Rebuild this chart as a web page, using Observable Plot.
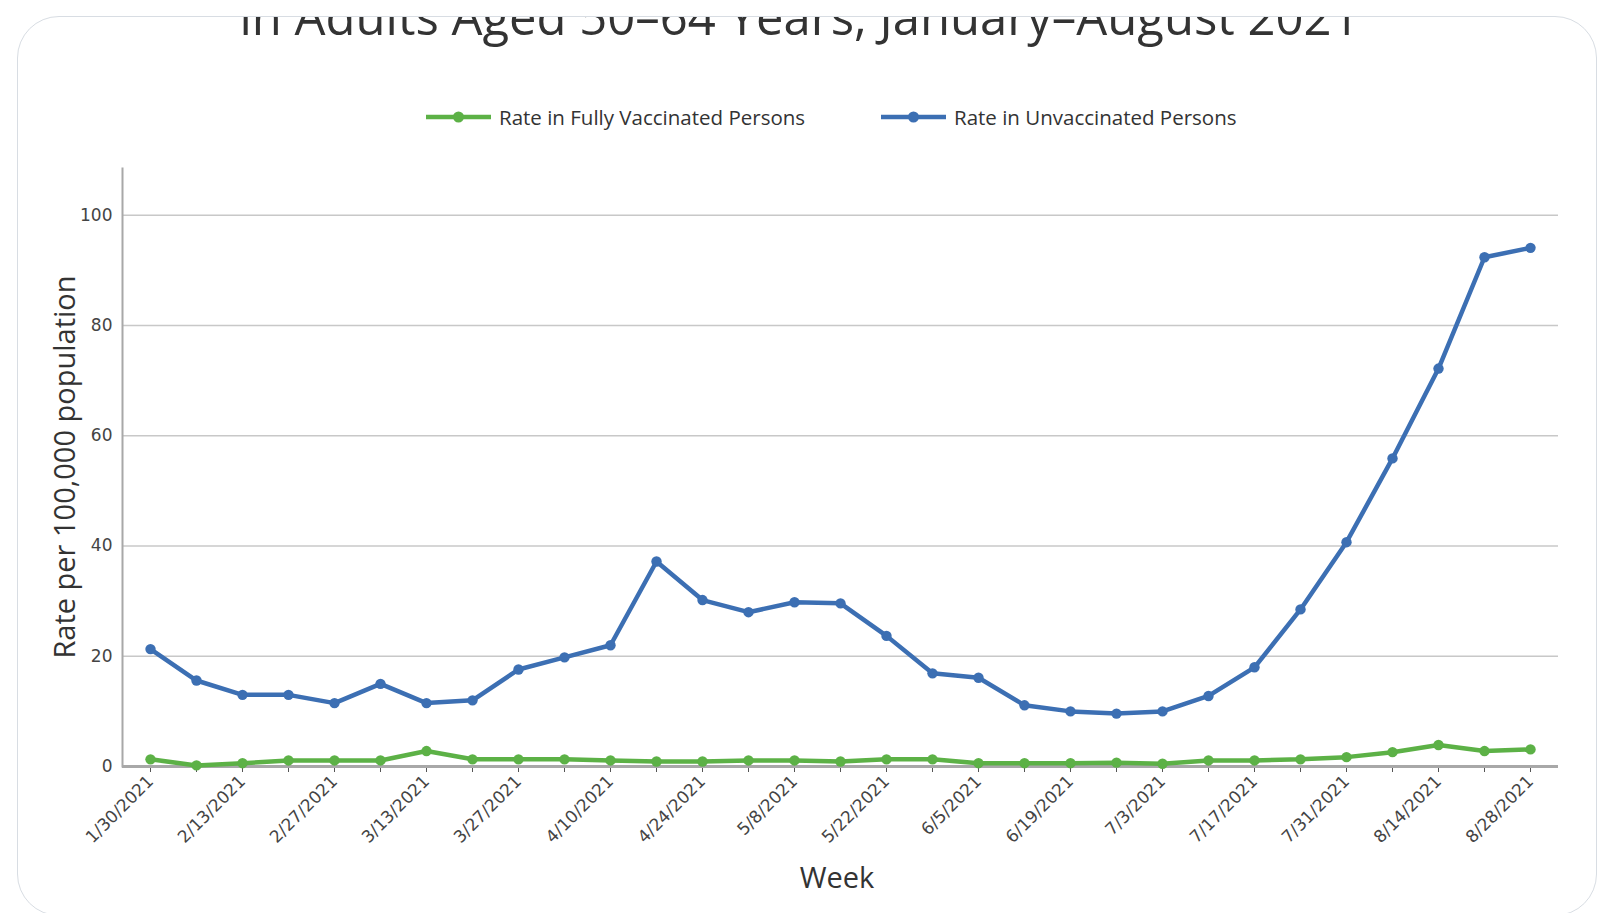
<!DOCTYPE html>
<html><head><meta charset="utf-8">
<script src="https://cdn.jsdelivr.net/npm/d3@7"></script>
<script src="https://cdn.jsdelivr.net/npm/@observablehq/plot@0.6"></script>
<style>
html,body{margin:0;padding:0;background:#fff;}
body{width:1597px;height:913px;overflow:hidden;position:relative;font-family:"Open Sans",sans-serif;color:#333;}
#card{position:absolute;left:17px;top:16px;width:1580px;height:900px;border:1.5px solid #d8dde3;border-radius:42px;overflow:hidden;box-sizing:border-box;}
#title{position:absolute;left:-17px;width:1597px;top:-25px;text-align:center;font-size:49px;line-height:49px;color:#333;white-space:nowrap;}
.leg{position:absolute;top:103px;display:flex;align-items:center;font-size:20.5px;color:#333;white-space:nowrap;}
.leg svg{margin-right:8px;}
#chart{position:absolute;left:0;top:150px;}
#ytitle{position:absolute;left:63px;top:467px;transform:translate(-50%,-50%) rotate(-90deg);font-size:29px;white-space:nowrap;color:#333;}
#xtitle{position:absolute;left:837px;top:876px;transform:translate(-50%,-50%);font-size:29px;color:#333;}
</style></head>
<body>
<div id="card"><div id="title">in Adults Aged 50–64 Years, January–August 2021</div></div>
<div id="legend"></div>
<div id="chart"></div>
<div id="ytitle">Rate per 100,000 population</div>
<div id="xtitle">Week</div>
<script>
const weeks = ["1/30/2021","2/6/2021","2/13/2021","2/20/2021","2/27/2021","3/6/2021","3/13/2021","3/20/2021","3/27/2021","4/3/2021","4/10/2021","4/17/2021","4/24/2021","5/1/2021","5/8/2021","5/15/2021","5/22/2021","5/29/2021","6/5/2021","6/12/2021","6/19/2021","6/26/2021","7/3/2021","7/10/2021","7/17/2021","7/24/2021","7/31/2021","8/7/2021","8/14/2021","8/21/2021","8/28/2021"];
const unvaccinated = [21.3,15.6,13.0,13.0,11.5,15.0,11.5,12.0,17.6,19.8,22.0,37.2,30.2,28.0,29.8,29.6,23.7,16.9,16.1,11.1,10.0,9.6,10.0,12.8,18.0,28.5,40.7,55.9,72.2,92.4,94.1];
const fullyVaccinated = [1.3,0.2,0.6,1.1,1.1,1.1,2.8,1.3,1.3,1.3,1.1,0.9,0.9,1.1,1.1,0.9,1.3,1.3,0.6,0.6,0.6,0.7,0.5,1.1,1.1,1.3,1.7,2.6,3.9,2.8,3.1];
const seriesNames = ["Rate in Fully Vaccinated Persons","Rate in Unvaccinated Persons"];
const seriesColors = ["#5cb146","#3c6fb3"];
const yTicks = [0,20,40,60,80,100];
const gridTicks = [20,40,60,80,100];
const labelWeeks = weeks.filter((d,i)=> i%2===0);

const rows = [];
weeks.forEach((w,i)=>{
  rows.push({week:w, value:fullyVaccinated[i], series:seriesNames[0]});
  rows.push({week:w, value:unvaccinated[i], series:seriesNames[1]});
});

// legend
const legPos = [426, 881];
seriesNames.forEach((name,i)=>{
  const d = document.createElement("div");
  d.className="leg"; d.style.left = legPos[i]+"px";
  d.innerHTML = `<svg width="65" height="24"><line x1="0" x2="65" y1="12" y2="12" stroke="${seriesColors[i]}" stroke-width="4.5"/><circle cx="32.5" cy="12" r="5.5" fill="${seriesColors[i]}"/></svg><span>${name}</span>`;
  document.getElementById("legend").appendChild(d);
});

const color = {domain: seriesNames, range: seriesColors};
const plot = Plot.plot({
  width: 1597, height: 763,
  marginTop: 18, marginBottom: 147, marginLeft: 122, marginRight: 39,
  style: {fontFamily: "'DejaVu Sans', sans-serif", fontSize: "16px", color: "#444", background: "transparent"},
  x: {type: "point", domain: weeks, padding: 0.5},
  y: {domain: [0, 108.5]},
  color,
  marks: [
    Plot.gridY(gridTicks, {stroke: "#c8c8c8", strokeOpacity: 1, strokeWidth: 1.5}),
    Plot.axisY(yTicks, {tickSize: 0, tickPadding: 10, label: null, fontSize: 17, fill: "#444"}),
    Plot.axisX(weeks, {tickSize: 6, tickFormat: () => "", label: null, stroke: "#555"}),
    Plot.axisX(labelWeeks, {tickSize: 0, tickRotate: -45, tickPadding: 12, label: null, fontSize: 17, fill: "#444"}),
    Plot.frame({anchor: "left", stroke: "#a8a8a8", strokeWidth: 2}),
    Plot.ruleY([0], {stroke: "#a8a8a8", strokeWidth: 3}),
    Plot.line(rows, {x: "week", y: "value", z: "series", stroke: "series", strokeWidth: 4.5, strokeLinejoin: "round"}),
    Plot.dot(rows, {x: "week", y: "value", fill: "series", r: 5.2})
  ]
});
document.getElementById("chart").appendChild(plot);
</script>
</body></html>
